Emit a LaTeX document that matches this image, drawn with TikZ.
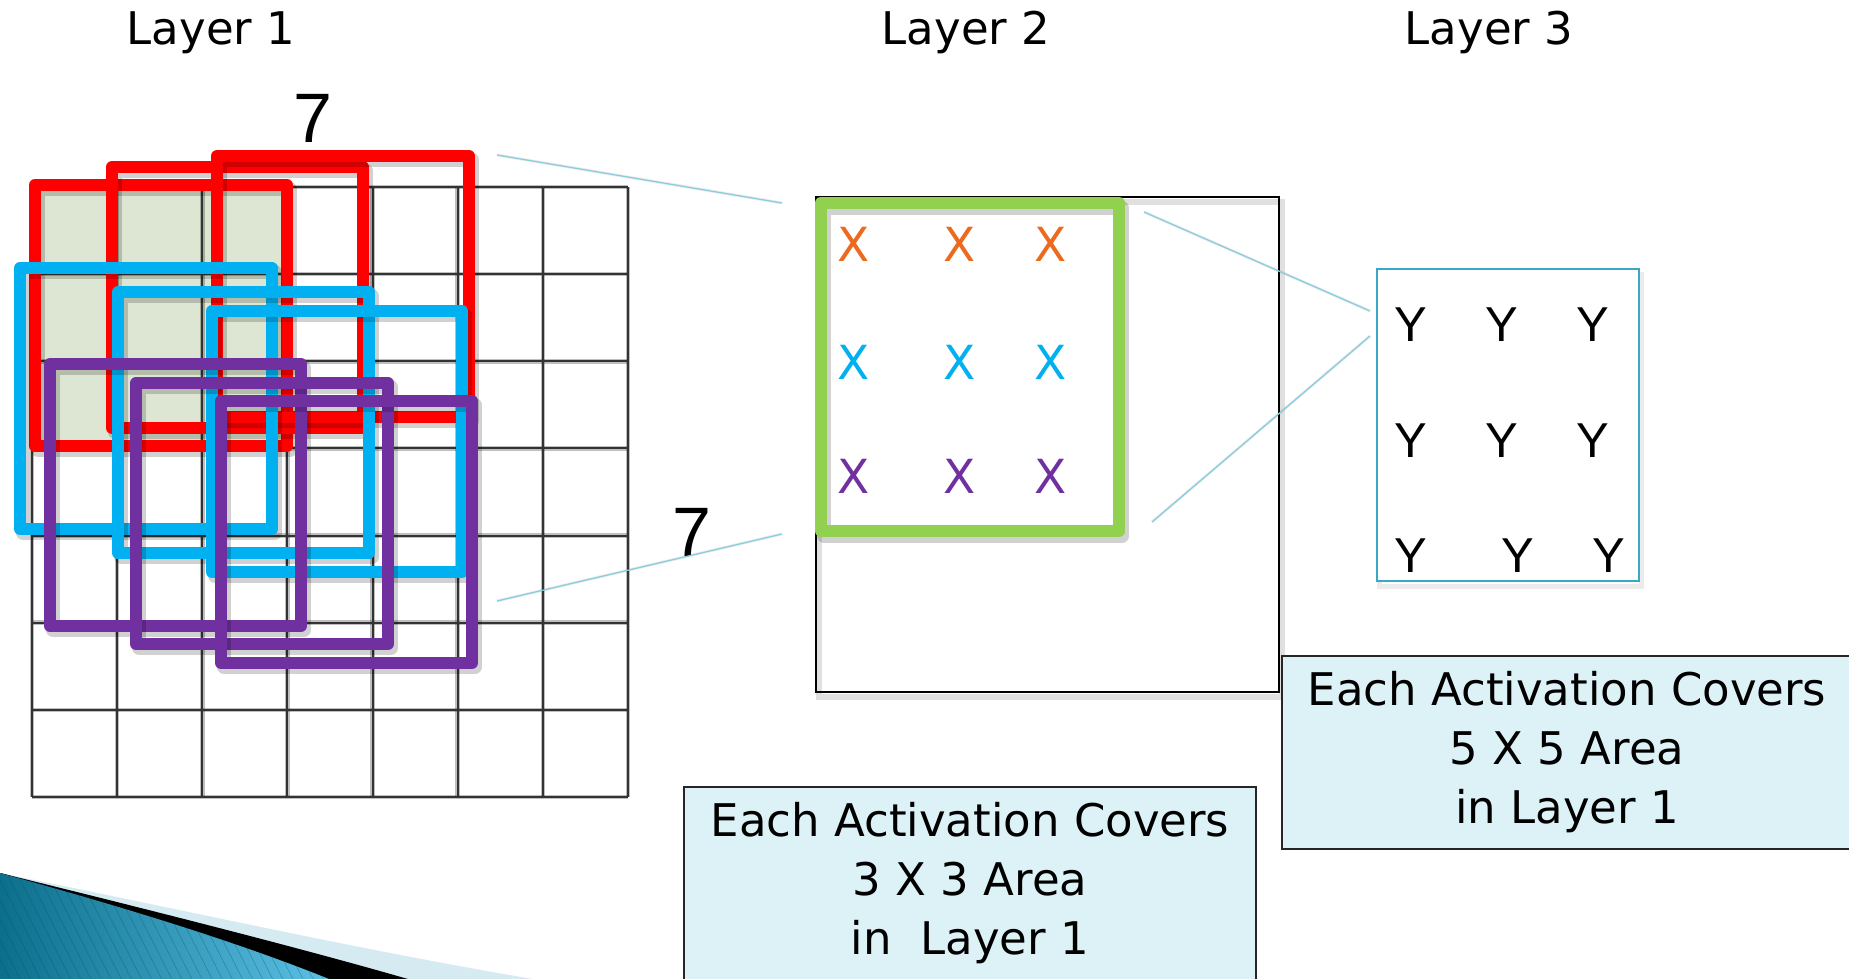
\documentclass[tikz,border=0pt]{standalone}
\usepackage{fontspec}
\setmainfont{DejaVu Sans}
\newfontfamily\arialfont{Liberation Sans}
\usetikzlibrary{patterns.meta}

\definecolor{winred}{HTML}{FF0000}
\definecolor{winblue}{HTML}{00B0F0}
\definecolor{winpurple}{HTML}{7030A0}
\definecolor{wingreen}{HTML}{92D050}
\definecolor{xorange}{HTML}{EB6A1E}
\definecolor{patchfill}{HTML}{DCE6D2}
\definecolor{notefill}{HTML}{DCF2F7}
\definecolor{ybox}{HTML}{3AA6C8}
\definecolor{linkcol}{HTML}{8ACDDD}
\definecolor{swooshdark}{HTML}{0C6F8C}
\definecolor{swooshlight}{HTML}{5BC0E4}
\definecolor{swooshpale}{HTML}{D5EAF1}

\tikzset{
  gridhalo/.style={draw=black, opacity=0.25, line width=4.5},
  gridline/.style={draw=black!80, line width=2},
  winshadow/.style={draw=black, opacity=0.18, line width=14, line join=round},
  window/.style={line width=12, line join=round},
  link/.style={draw=linkcol, line width=1.3},
  linkshadow/.style={draw=black, opacity=0.07, line width=3},
  title/.style={font=\fontsize{45}{54}\selectfont, inner sep=0pt},
  sevenlbl/.style={font=\arialfont\fontsize{70}{80}\selectfont, inner sep=0pt},
  xmark/.style={font=\fontsize{47}{56}\selectfont, inner sep=0pt},
  ymark/.style={font=\arialfont\fontsize{49}{58}\selectfont, inner sep=0pt},
  notebox/.style={draw=black!85, line width=1.6, fill=notefill, inner sep=0pt},
  notetext/.style={font=\fontsize{45}{59}\selectfont, align=center, inner sep=0pt},
}

% one sliding 3x3 window with its drop shadow
\newcommand\slidewin[5]{%
  \draw[winshadow, shift={(3,4)}] (#2,#3) rectangle (#4,#5);
  \draw[window, draw=#1] (#2,#3) rectangle (#4,#5);
}

\begin{document}
\begin{tikzpicture}[x=1pt, y=-1pt]
  \useasboundingbox (0,0) rectangle (1849,979);
  \clip (0,0) rectangle (1849,979);

  % decorative swoosh in the lower left corner
  \fill[swooshpale] (0,873) .. controls (160,905) and (360,950) .. (533,979) -- (0,979) -- cycle;
  \fill[black] (0,873) .. controls (130,905) and (290,945) .. (408,979) -- (0,979) -- cycle;
  \fill[left color=swooshdark, right color=swooshlight]
    (0,873) .. controls (90,898) and (220,935) .. (329,979) -- (0,979) -- cycle;
  \fill[pattern={Lines[angle=-63, distance=9pt, line width=0.6pt]}, pattern color=swooshdark!70!black, opacity=0.35]
    (0,873) .. controls (90,898) and (220,935) .. (329,979) -- (0,979) -- cycle;

  % titles
  \node[title, anchor=base] (t1) at (211,45) {Layer 1};
  \node[title, anchor=base] (t2) at (966,45) {Layer 2};
  \node[title, anchor=base] (t3) at (1489,45) {Layer 3};

  % Layer 1: shaded receptive field and 7x7 grid
  \fill[patchfill] (35,185) rectangle (287,446);
  \foreach \i in {0,...,7} {
    \draw[gridhalo] (32+85.14*\i,187) -- (32+85.14*\i,797);
    \draw[gridhalo] (32,187+87.14*\i) -- (628,187+87.14*\i);
  }
  \foreach \i in {0,...,7} {
    \draw[gridline] (32+85.14*\i,187) -- (32+85.14*\i,797);
    \draw[gridline] (32,187+87.14*\i) -- (628,187+87.14*\i);
  }

  % sliding windows
  \slidewin{winred}{35}{185}{287}{446}
  \slidewin{winred}{112}{167}{363}{428}
  \slidewin{winred}{217}{156}{469}{417}
  \slidewin{winblue}{20}{268}{272}{529}
  \slidewin{winblue}{118}{292}{369}{553}
  \slidewin{winblue}{212}{311}{462}{572}
  \slidewin{winpurple}{50}{364}{301}{626}
  \slidewin{winpurple}{136}{383}{388}{644}
  \slidewin{winpurple}{221}{401}{472}{663}

  \node[sevenlbl] (sevtop) at (313,118) {7};
  \node[sevenlbl] (sevside) at (692,532) {7};

  % Layer 2 map
  \draw[draw=black, opacity=0.12, line width=6, shift={(3,5)}] (816,197) rectangle (1279,692);
  \node[draw=black, line width=2, fill=none, minimum width=463, minimum height=495, inner sep=0pt] (map2) at (1047.5,444.5) {};
  \draw[winshadow, shift={(3,5)}] (821,203) rectangle (1119,531);
  \node[draw=wingreen, line width=12, line join=round, minimum width=298, minimum height=328, inner sep=0pt] (win2) at (970,367) {};

  \foreach \cx [count=\c] in {854,960,1051} {
    \node[xmark, text=xorange]   (xa\c) at (\cx,244) {X};
    \node[xmark, text=winblue]   (xb\c) at (\cx,362) {X};
    \node[xmark, text=winpurple] (xc\c) at (\cx,476) {X};
  }

  % Layer 3 map
  \draw[draw=black, opacity=0.08, line width=5, shift={(2,5)}] (1377,269) rectangle (1639,581);
  \node[draw=ybox, line width=2.2, fill=white, minimum width=262, minimum height=312, inner sep=0pt] (map3) at (1508,425) {};
  \foreach \cx [count=\c] in {1411,1502,1593} {
    \node[ymark] (ya\c) at (\cx,325) {Y};
    \node[ymark] (yb\c) at (\cx,441) {Y};
  }
  \foreach \cx [count=\c] in {1411,1518,1609} {
    \node[ymark] (yc\c) at (\cx,556) {Y};
  }

  % projection lines between layers
  \coordinate (l1top) at (497,155);
  \coordinate (l1bot) at (497,601);
  \coordinate (l2topin) at (782,203);
  \coordinate (l2botin) at (782,534);
  \coordinate (l2topout) at (1144,212);
  \coordinate (l2botout) at (1152,522);
  \coordinate (l3top) at (1370,311);
  \coordinate (l3bot) at (1370,336);
  \foreach \a/\b in {l1top/l2topin, l1bot/l2botin, l2topout/l3top, l2botout/l3bot} {
    \draw[linkshadow, shift={(1,4)}] (\a) -- (\b);
    \draw[link] (\a) -- (\b);
  }

  % notes
  \node[notebox, minimum width=572, minimum height=220] (note3) at (970,897) {};
  \node[notetext] (note3txt) at (970,883) {Each Activation Covers\\3 X 3 Area\\in~~Layer 1};
  \node[notebox, minimum width=588, minimum height=193] (note5) at (1576,752.5) {};
  \node[notetext] (note5txt) at (1567,752) {Each Activation Covers\\5 X 5 Area\\in Layer 1};
\end{tikzpicture}
\end{document}
